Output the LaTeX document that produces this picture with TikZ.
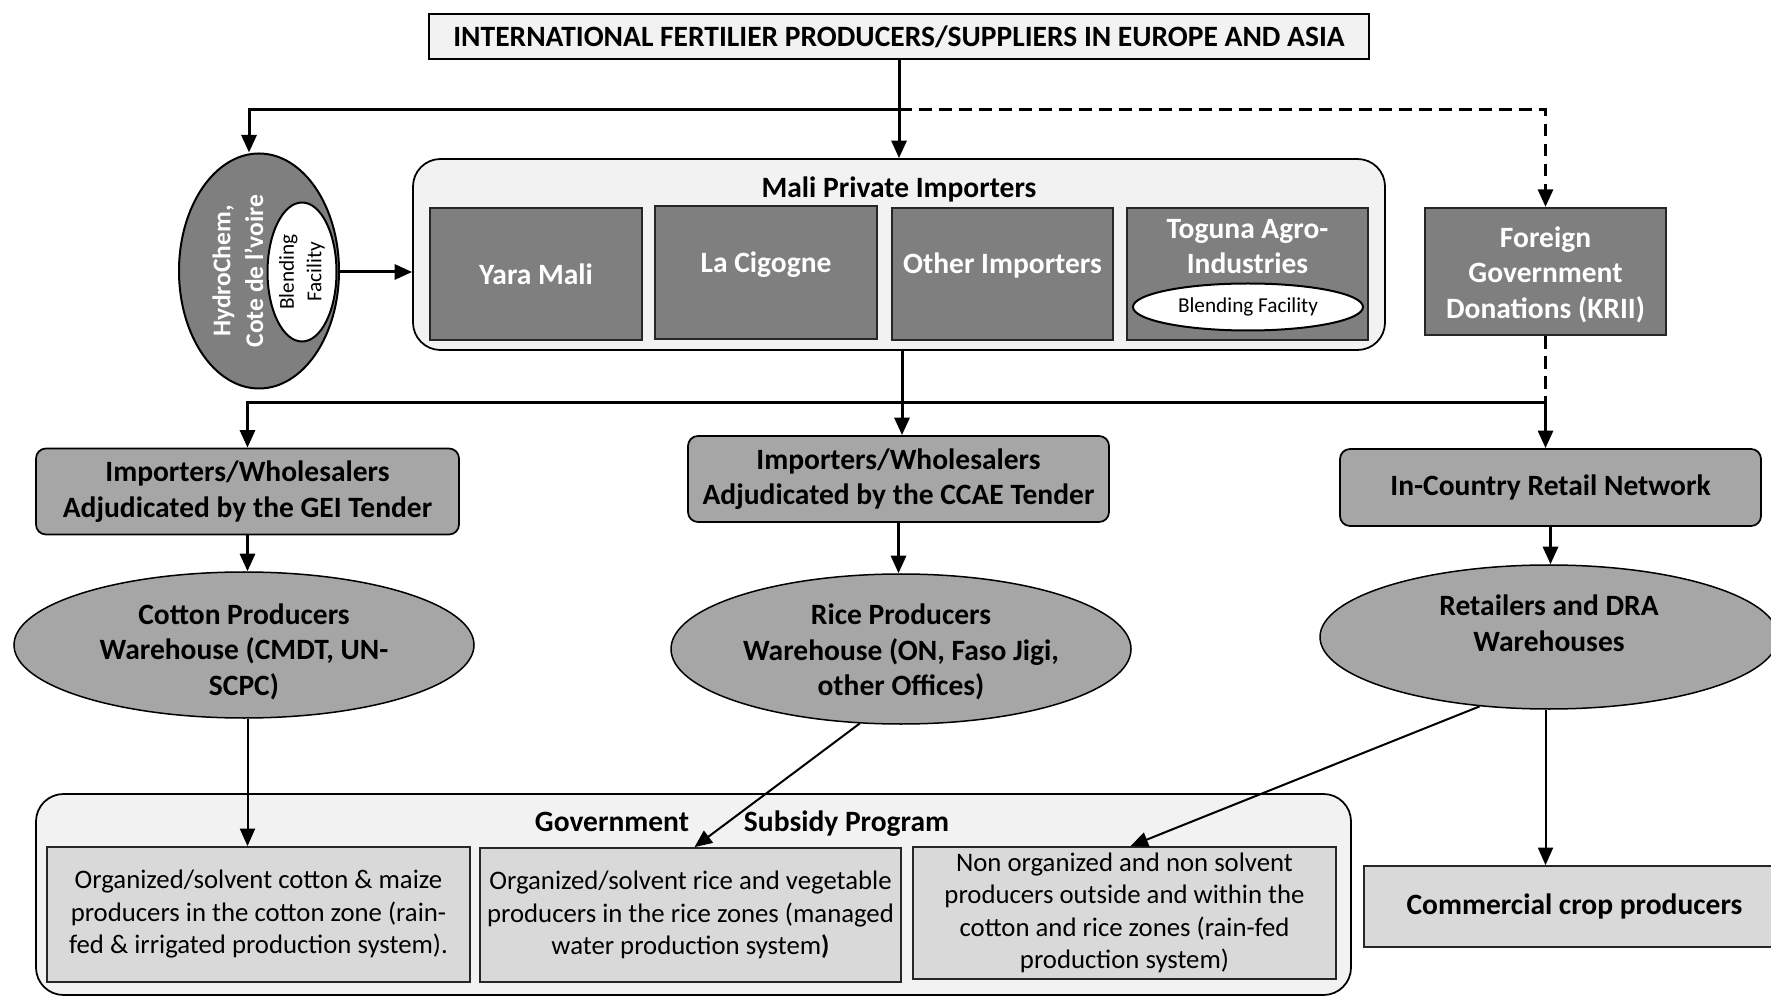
\documentclass[tikz,border=0pt]{standalone}
\usepackage{fontspec}
\setmainfont{Carlito}
\usetikzlibrary{arrows.meta,calc,positioning,shapes.geometric}
\definecolor{darkgrey}{HTML}{7F7F7F}
\definecolor{midgrey}{HTML}{A6A6A6}
\definecolor{lightgrey}{HTML}{D9D9D9}
\definecolor{panelgrey}{HTML}{F2F2F2}

\tikzset{
  boldtxt/.style={font=\fontsize{11.8}{14.2}\selectfont\bfseries,align=center},
  plaintxt/.style={font=\fontsize{10.7}{13}\selectfont,align=center},
  panel/.style={draw,line width=0.7pt,rounded corners=11pt,fill=panelgrey},
  darkbox/.style={draw=black!85,line width=0.9pt,fill=darkgrey,text=white,boldtxt,inner sep=1pt},
  midbox/.style={draw,line width=0.7pt,rounded corners=4pt,fill=midgrey,boldtxt,inner sep=1pt},
  midoval/.style={ellipse,draw,line width=0.6pt,fill=midgrey,inner sep=0pt},
  lightbox/.style={draw=black!85,line width=0.7pt,fill=lightgrey,plaintxt,inner sep=1pt},
  blendoval/.style={ellipse,draw,line width=0.8pt,fill=white,font=\fontsize{8.5}{11}\selectfont,align=center,inner sep=0pt},
  flow/.style={->,line width=1.2pt},
  thinflow/.style={->,line width=0.8pt}
}

\begin{document}
\begin{tikzpicture}[x=0.4pt,y=-0.4pt,>={Triangle[length=7pt,width=6pt]}]
  \useasboundingbox (0,0) rectangle (1771,997);

  \node[draw,line width=0.7pt,fill=panelgrey,minimum width=376pt,minimum height=18pt,
        font=\fontsize{11.8}{14}\selectfont\bfseries] (title) at (899,36.5)
        {INTERNATIONAL FERTILIER PRODUCERS/SUPPLIERS IN EUROPE AND ASIA};

  % HydroChem with its blending facility
  \node[ellipse,draw,line width=0.8pt,fill=darkgrey,minimum width=64pt,minimum height=94pt] (hydro) at (259,271) {};
  \node[rotate=90,text=white,font=\fontsize{10.2}{13.1}\selectfont\bfseries,align=center] (hydrotxt) at (238,271)
        {HydroChem,\\Cote de l’voire};
  \node[blendoval,minimum width=27.6pt,minimum height=55.6pt] (blendhydro) at (302,272) {};
  \node[rotate=90,font=\fontsize{8.5}{11}\selectfont,align=center] (blendhydrotxt) at (blendhydro) {Blending\\Facility};

  % private importers
  \node[panel,minimum width=388.8pt,minimum height=76.4pt] (mali) at (899,254.5) {};
  \node[boldtxt] (malititle) at (899,189) {Mali Private Importers};
  \node[darkbox,minimum width=84.8pt,minimum height=52.8pt] (yara) at (536,274) {Yara Mali};
  \node[darkbox,minimum width=88.8pt,minimum height=53.2pt,
        label={[text=white,boldtxt,yshift=3pt]center:La Cigogne}] (cigogne) at (766,272.5) {};
  \node[darkbox,minimum width=88.4pt,minimum height=52.8pt,
        label={[text=white,boldtxt,yshift=3.5pt]center:Other Importers}] (other) at (1002.5,274) {};
  \node[darkbox,minimum width=96.4pt,minimum height=52.8pt,
        label={[text=white,boldtxt,yshift=11pt]center:Toguna Agro-\\Industries}] (toguna) at (1247.5,274) {};
  \node[blendoval,minimum width=92pt,minimum height=18.8pt] (blendtoguna) at (1248,307) {Blending Facility};

  \node[darkbox,minimum width=96.4pt,minimum height=50.8pt,
        label={[text=white,boldtxt,yshift=-1.3pt]center:Foreign\\Government\\Donations (KRII)}] (foreign) at (1545.5,271.5) {};

  % wholesalers and retail
  \node[midbox,minimum width=169.2pt,minimum height=34.4pt] (gei) at (247.5,491.5)
        {Importers/Wholesalers\\Adjudicated by the GEI Tender};
  \node[midbox,minimum width=168.4pt,minimum height=34.4pt] (ccae) at (898.5,479)
        {Importers/Wholesalers\\Adjudicated by the CCAE Tender};
  \node[midbox,minimum width=168.4pt,minimum height=30.8pt] (retail) at (1550.5,487.5)
        {In-Country Retail Network};

  \node[midoval,minimum width=184pt,minimum height=58.4pt,
        label={[boldtxt,yshift=-2.7pt]center:Cotton Producers\\Warehouse (CMDT, UN-\\SCPC)}] (cotton) at (244,645) {};
  \node[midoval,minimum width=184pt,minimum height=60pt,
        label={[boldtxt,yshift=-1.2pt]center:Rice Producers\\Warehouse (ON, Faso Jigi,\\other Offices)}] (rice) at (901,649) {};
  \node[midoval,minimum width=183.2pt,minimum height=57.6pt,
        label={[boldtxt,yshift=5.4pt]center:Retailers and DRA\\Warehouses}] (retailers) at (1549,637) {};

  % subsidy program
  \node[panel,minimum width=526pt,minimum height=80.4pt] (gov) at (693.5,894.5) {};
  \node[boldtxt] (govtitle) at (742,824) {Government\hspace{22pt}Subsidy Program};
  \node[lightbox,minimum width=169.2pt,minimum height=54pt] (cottonzone) at (258.5,914.5)
        {Organized/solvent cotton \& maize\\producers in the cotton zone (rain-\\fed \& irrigated production system).};
  \node[lightbox,minimum width=168.4pt,minimum height=53.6pt] (ricezone) at (690.5,915)
        {Organized/solvent rice and vegetable\\producers in the rice zones (managed\\water production system\textbf{)}};
  \node[lightbox,minimum width=169.2pt,minimum height=52.8pt] (rainfed) at (1124.5,913)
        {Non organized and non solvent\\producers outside and within the\\cotton and rice zones (rain-fed\\production system)};
  \node[lightbox,minimum width=168.4pt,minimum height=32.4pt,boldtxt] (commercial) at (1574.5,906.5)
        {Commercial crop producers};

  % connectors
  \coordinate (split) at (899,110);
  \coordinate (split2) at (902,403);
  \draw[flow] (title) -- (mali);
  \draw[flow] (split) -| ($(hydro.north)+(-10,0)$);
  \draw[flow,dash pattern=on 5pt off 3pt] (split) -| (foreign);
  \draw[flow] (blendhydro.east) -- (mali.west |- blendhydro.east);
  \draw[flow] (mali.south -| split2) -- (ccae.north -| split2);
  \draw[line width=1.2pt,dash pattern=on 5pt off 3pt] (foreign) -- (foreign |- split2);
  \draw[flow] (split2) -| (gei);
  \draw[flow] (split2) -| (foreign |- retail.north);
  \draw[flow] (gei.south) -- (gei.south |- cotton.north);
  \draw[flow] (ccae.south) -- (ccae.south |- rice.north);
  \draw[flow] (retail.south) -- (retail.south |- retailers.north);
  \draw[thinflow] (gei.south |- cotton.south) -- (gei.south |- cottonzone.north);
  \draw[thinflow] (rice.-119) -- ($(ricezone.north)+(4,0)$);
  \draw[thinflow] (retailers.-135) -- ($(rainfed.north)+(6,0)$);
  \draw[thinflow] (retailers.south -| foreign) -- (foreign |- commercial.north);
\end{tikzpicture}
\end{document}
